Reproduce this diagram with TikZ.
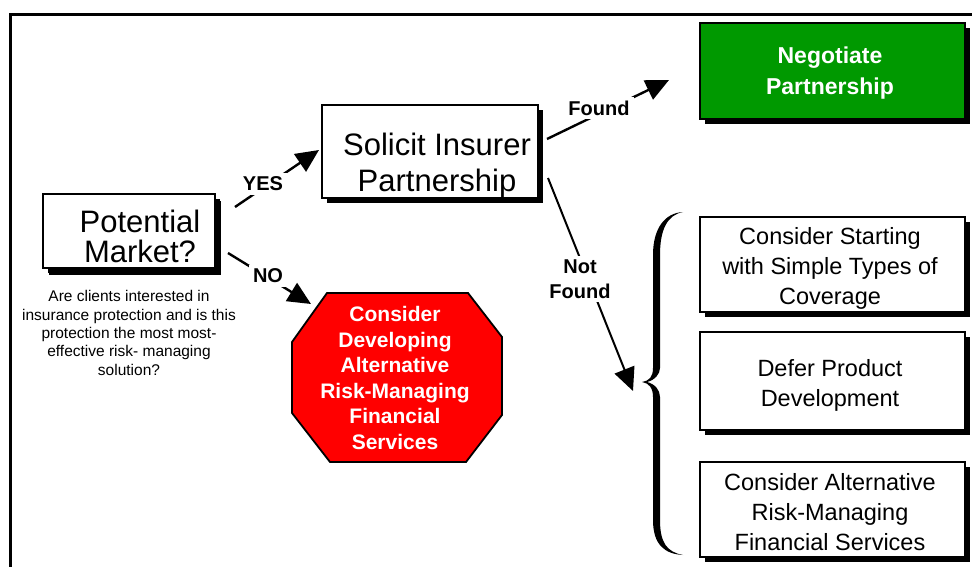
\documentclass[tikz,border=0pt]{standalone}
\usepackage{fontspec}
\setmainfont{Liberation Sans}
\usetikzlibrary{arrows.meta,shadows}
\definecolor{boxgreen}{RGB}{0,153,0}
\definecolor{stopred}{RGB}{255,0,0}
\begin{document}
\begin{tikzpicture}[x=1pt,y=-1pt,
  box/.style={draw=black, line width=1.8pt, fill=white, rectangle, inner sep=0pt,
    general shadow={fill=black, shadow xshift=5pt, shadow yshift=-5pt}},
  conn/.style={line width=2.4pt, -{Triangle[length=23pt,width=21pt]}},
  lbl/.style={font=\fontsize{20}{25}\selectfont\bfseries, fill=white, inner sep=4pt, align=center},
  bigtxt/.style={font=\fontsize{31}{30}\selectfont, align=center, inner sep=0pt},
  optxt/.style={font=\fontsize{23.5}{30}\selectfont, align=center, inner sep=0pt},
]
\useasboundingbox (0,0) rectangle (972,567);
% frame
\draw[line width=3pt] (10,567) -- (10,15) -- (972,15);

% boxes
\node[box, minimum width=172pt, minimum height=74pt,
  general shadow={fill=black, shadow xshift=6pt, shadow yshift=-7pt}] (pm) at (129,231) {};
\node[bigtxt] (pmt) at (140,236.5) {Potential\\Market?};

\node[box, minimum width=216pt, minimum height=93pt] (sol) at (430,151.5) {};
\node[bigtxt, font=\fontsize{31}{36}\selectfont] (solt) at (437,165) {Solicit Insurer\\Partnership};

\node[box, fill=boxgreen, minimum width=265pt, minimum height=96pt] (neg) at (832.5,71) {};
\node[font=\fontsize{23}{31}\selectfont\bfseries, text=white, align=center, inner sep=0pt] (negt) at (830,73) {Negotiate\\Partnership};

\node[box, minimum width=265pt, minimum height=95pt] (o1) at (832.5,264.5) {};
\node[optxt] (o1t) at (830,268) {Consider Starting\\with Simple Types of\\Coverage};

\node[box, minimum width=265pt, minimum height=98pt] (o2) at (832.5,381) {};
\node[optxt] (o2t) at (830,385) {Defer Product\\Development};

\node[box, minimum width=265pt, minimum height=95pt] (o3) at (832.5,509.5) {};
\node[optxt] (o3t) at (830,512) {Consider Alternative\\Risk-Managing\\Financial Services};

% stop octagon
\draw[line width=1.8pt, fill=stopred] (327,293) -- (468,293) -- (502,337) -- (502,415)
  -- (466,462) -- (330,462) -- (292,413) -- (292,342) -- cycle;
\node[font=\fontsize{21}{25.5}\selectfont\bfseries, text=white, align=center, inner sep=0pt] (alt) at (395,378)
  {Consider\\Developing\\Alternative\\Risk-Managing\\Financial\\Services};

% question text
\node[font=\fontsize{15.5}{18.3}\selectfont, align=center, inner sep=0pt] (q) at (129,333)
  {Are clients interested in\\insurance protection and is this\\protection the most most-\\effective risk- managing\\solution?};

% brace
\fill (683,212) .. controls (665,213) and (653,228) .. (653,255) -- (653,368)
  .. controls (653,377) and (649,381) .. (642,382)
  .. controls (649,383) and (653,388) .. (653,397) -- (653,520)
  .. controls (653,545) and (665,554) .. (683,555)
  .. controls (667,552) and (660,543) .. (660,520) -- (660,397)
  .. controls (660,390) and (655,384) .. (647,382)
  .. controls (655,380) and (660,374) .. (660,368) -- (660,255)
  .. controls (660,230) and (667,215) .. (683,212) -- cycle;

% connectors
\coordinate (yA) at (235,207); \coordinate (yB) at (319,150);
\coordinate (nA) at (228,253); \coordinate (nB) at (311,304);
\coordinate (fA) at (547,139); \coordinate (fB) at (669,80);
\coordinate (nfA) at (548,178); \coordinate (nfB) at (633,391);
\draw[conn] (yA) -- (yB);
\draw[conn] (nA) -- (nB);
\draw[conn] (fA) -- (fB);
\draw[conn, line width=2pt] (nfA) -- (nfB);

\node[lbl] (yes) at (263,184) {YES};
\node[lbl] (no) at (268,276) {NO};
\node[lbl] (found) at (599,108) {Found};
\node[lbl] (notfound) at (580,279) {Not\\Found};
\end{tikzpicture}
\end{document}
